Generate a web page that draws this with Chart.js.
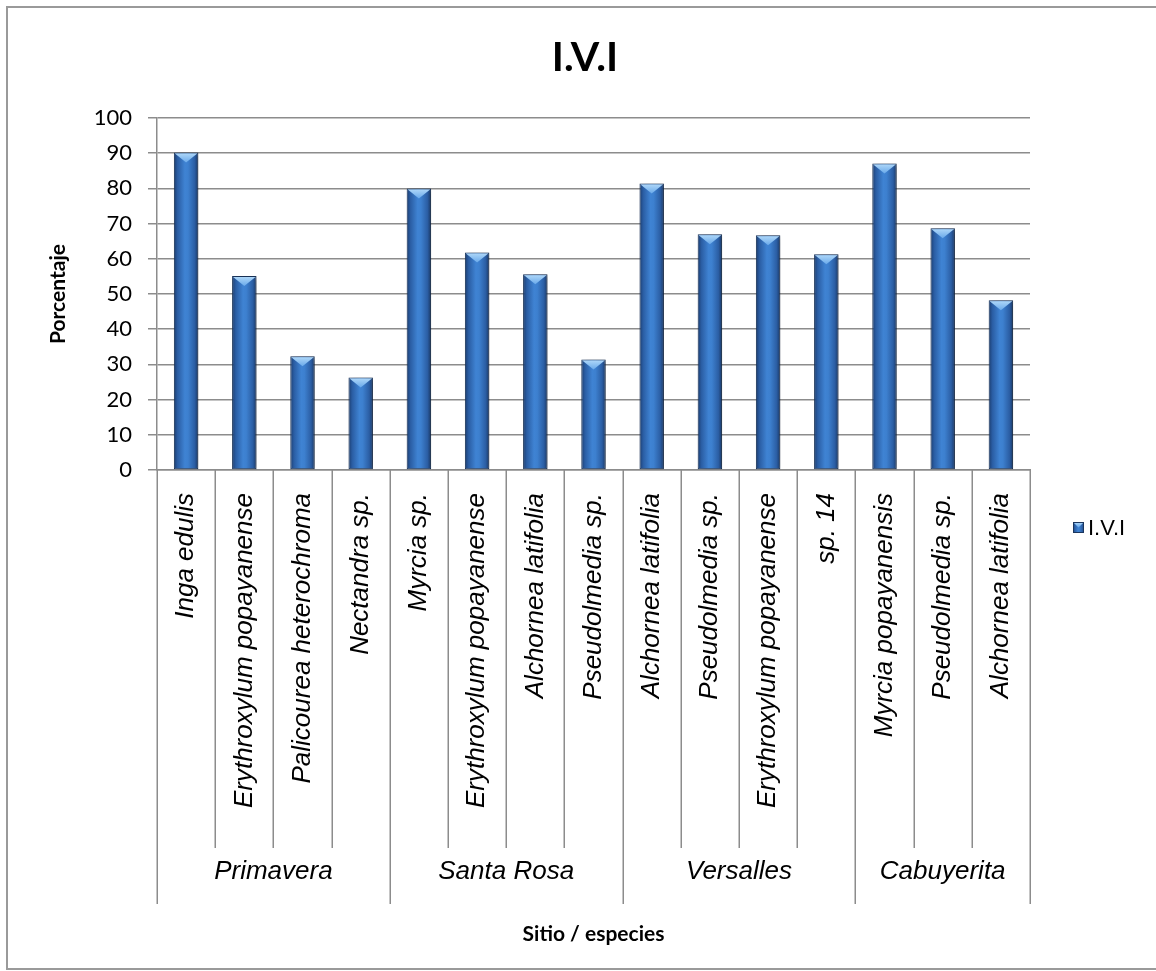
<!DOCTYPE html>
<html>
<head>
<meta charset="utf-8">
<script src="https://cdn.jsdelivr.net/npm/chart.js@4.4.1/dist/chart.umd.min.js"></script>
<style>
  html, body { margin: 0; padding: 0; background: #ffffff; }
  #wrap { width: 1156px; height: 971px; position: relative; }
</style>
</head>
<body>
<div id="wrap"><canvas id="chart" width="1156" height="971"></canvas></div>
<script>
// Species per sampling site (bottom-level category labels)
const species = [
  'Inga edulis', 'Erythroxylum popayanense', 'Palicourea heterochroma', 'Nectandra sp.',
  'Myrcia sp.', 'Erythroxylum popayanense', 'Alchornea latifolia', 'Pseudolmedia sp.',
  'Alchornea latifolia', 'Pseudolmedia sp.', 'Erythroxylum popayanense', 'sp. 14',
  'Myrcia popayanensis', 'Pseudolmedia sp.', 'Alchornea latifolia'
];
// Sites (top-level category labels) and how many species each one groups
const sites = ['Primavera', 'Santa Rosa', 'Versalles', 'Cabuyerita'];
const speciesPerSite = [4, 4, 4, 3];
// Importance value index (%)
const ivi = [90.2, 55.1, 32.3, 26.3, 80.0, 61.8, 55.6, 31.4, 81.4, 67.0, 66.7, 61.3, 87.1, 68.7, 48.2];
// Value axis
const yMin = 0, yMax = 100, yStep = 10;

const seriesName = 'I.V.I';
const chartTitle = 'I.V.I';
const xTitle = 'Sitio / especies';
const yTitle = 'Porcentaje';
const GRID = '#8c8c8c';
const BAR_PCT = 0.42;

function barGradient(c, x0, x1) {
  const g = c.createLinearGradient(x0, 0, x1, 0);
  g.addColorStop(0.00, '#1b3c6e');
  g.addColorStop(0.15, '#2a5da3');
  g.addColorStop(0.45, '#3f83d3');
  g.addColorStop(0.58, '#3d80cf');
  g.addColorStop(0.85, '#2b5ea4');
  g.addColorStop(1.00, '#1a3763');
  return g;
}

// Outer frame and the chart heading
const framePlugin = {
  id: 'frame',
  beforeDraw(chart) {
    const c = chart.ctx;
    c.save();
    c.fillStyle = '#ffffff';
    c.fillRect(0, 0, chart.width, chart.height);
    c.strokeStyle = '#9a9a9a';
    c.lineWidth = 2;
    c.strokeRect(7, 7, 1156, 962);
    c.fillStyle = '#000000';
    c.font = 'bold 41px Lato, "Open Sans", sans-serif';
    c.textAlign = 'center';
    c.textBaseline = 'middle';
    c.fillText(chartTitle, 585, 58);
    c.restore();
  }
};

// Soft drop shadow behind the bars, then a bevelled top on each one
const bevelPlugin = {
  id: 'bevel',
  beforeDatasetsDraw(chart) {
    const c = chart.ctx;
    c.save();
    c.shadowColor = 'rgba(0,0,0,0.35)';
    c.shadowBlur = 6;
    c.shadowOffsetX = 3;
    c.shadowOffsetY = 1;
  },
  afterDatasetsDraw(chart) {
    const c = chart.ctx;
    c.restore();
    const meta = chart.getDatasetMeta(0);
    c.save();
    meta.data.forEach((bar) => {
      const { x, y, width } = bar.getProps(['x', 'y', 'width'], true);
      const h = Math.min(10, width * 0.42);
      const g = c.createLinearGradient(0, y, 0, y + h);
      g.addColorStop(0, '#b4dbfa');
      g.addColorStop(1, '#69a9ea');
      c.fillStyle = g;
      c.beginPath();
      c.moveTo(x - width / 2 + 1, y + 1);
      c.lineTo(x + width / 2 - 1, y + 1);
      c.lineTo(x, y + h);
      c.closePath();
      c.fill();
    });
    c.restore();
  }
};

// Separators between species / sites, the site labels and the legend
const groupAxisPlugin = {
  id: 'groupAxis',
  afterDraw(chart) {
    const xs = chart.scales.x;
    const c = chart.ctx;
    const n = species.length;
    const cw = xs.getPixelForValue(1) - xs.getPixelForValue(0);
    const edge = (i) => xs.getPixelForValue(i) - cw / 2;
    const bounds = [0];
    speciesPerSite.forEach((k) => bounds.push(bounds[bounds.length - 1] + k));
    const top = xs.top;
    c.save();
    c.strokeStyle = GRID;
    c.lineWidth = 1.5;
    for (let i = 0; i <= n; i++) {
      const isSite = bounds.includes(i);
      const x = Math.round(edge(i)) + 0.25;
      c.beginPath();
      c.moveTo(x, top);
      c.lineTo(x, isSite ? 904 : 848);
      c.stroke();
    }
    c.fillStyle = '#000000';
    c.font = 'italic 26px "Liberation Sans", Arial, sans-serif';
    c.textAlign = 'center';
    c.textBaseline = 'middle';
    sites.forEach((s, k) => {
      const cx = (edge(bounds[k]) + edge(bounds[k + 1])) / 2;
      c.fillText(s, cx, 872);
    });

    // legend
    const bx = 1073, by = 522, bs = 11;
    c.fillStyle = barGradient(c, bx, bx + bs);
    c.fillRect(bx, by, bs, bs);
    const g = c.createLinearGradient(0, by, 0, by + 5);
    g.addColorStop(0, '#b4dbfa');
    g.addColorStop(1, '#69a9ea');
    c.fillStyle = g;
    c.beginPath();
    c.moveTo(bx, by);
    c.lineTo(bx + bs, by);
    c.lineTo(bx + bs / 2, by + bs / 2);
    c.closePath();
    c.fill();
    c.strokeStyle = '#1b365e';
    c.lineWidth = 1;
    c.strokeRect(bx + 0.5, by + 0.5, bs - 1, bs - 1);
    c.fillStyle = '#000000';
    c.font = '22px "Liberation Sans", Arial, sans-serif';
    c.textAlign = 'left';
    c.textBaseline = 'middle';
    c.fillText(chart.data.datasets[0].label, bx + bs + 4, by + bs / 2 + 1);
    c.restore();
  }
};

function draw() {
  new Chart(document.getElementById('chart'), {
    type: 'bar',
    data: {
      labels: species,
      datasets: [{
        label: seriesName,
        data: ivi,
        barPercentage: BAR_PCT,
        categoryPercentage: 1,
        borderColor: '#1b365e',
        borderWidth: 1,
        borderSkipped: false,
        backgroundColor: (ctx) => {
          const chart = ctx.chart;
          const xs = chart.scales.x;
          if (!chart.chartArea || ctx.type !== 'data' || !xs) return '#3569b0';
          const cw = xs.getPixelForValue(1) - xs.getPixelForValue(0);
          const cx = xs.getPixelForValue(ctx.dataIndex);
          const half = cw * BAR_PCT / 2;
          return barGradient(chart.ctx, cx - half, cx + half);
        }
      }]
    },
    options: {
      responsive: false,
      animation: false,
      devicePixelRatio: 1,
      layout: { padding: { left: 10, right: 126, top: 118, bottom: 0 } },
      plugins: {
        legend: { display: false },
        tooltip: { enabled: false },
        title: { display: false }
      },
      scales: {
        x: {
          type: 'category',
          offset: true,
          grid: { display: false, drawTicks: false },
          border: { display: true, color: GRID, width: 1.5 },
          ticks: {
            autoSkip: false,
            minRotation: 90,
            maxRotation: 90,
            padding: 23,
            color: '#000000',
            font: { family: '"Liberation Sans", Arial, sans-serif', size: 26, style: 'italic' }
          },
          title: {
            display: true,
            text: xTitle,
            color: '#000000',
            font: { family: 'Lato, "Open Sans", sans-serif', size: 21, weight: 'bold' },
            padding: { top: 0, bottom: 24 }
          },
          afterFit(scale) { scale.height = 501; }
        },
        y: {
          min: yMin,
          max: yMax,
          ticks: {
            stepSize: yStep,
            padding: 16,
            color: '#000000',
            font: { family: 'Lato, "Open Sans", sans-serif', size: 22 }
          },
          grid: { color: GRID, lineWidth: 1.5, tickLength: 9, drawTicks: true },
          border: { color: GRID, width: 1.5 },
          title: {
            display: true,
            text: yTitle,
            color: '#000000',
            font: { family: 'Lato, "Open Sans", sans-serif', size: 21, weight: 'bold' },
            padding: { top: 36, bottom: 0 }
          },
          afterFit(scale) { scale.width = 147; }
        }
      }
    },
    plugins: [framePlugin, bevelPlugin, groupAxisPlugin]
  });
}

const fontLoads = [
  'bold 41px Lato', '22px Lato', 'italic 26px "Liberation Sans"', '22px "Liberation Sans"'
].map((f) => document.fonts.load(f).catch(() => null));
Promise.all(fontLoads).then(draw, draw);
</script>
</body>
</html>
